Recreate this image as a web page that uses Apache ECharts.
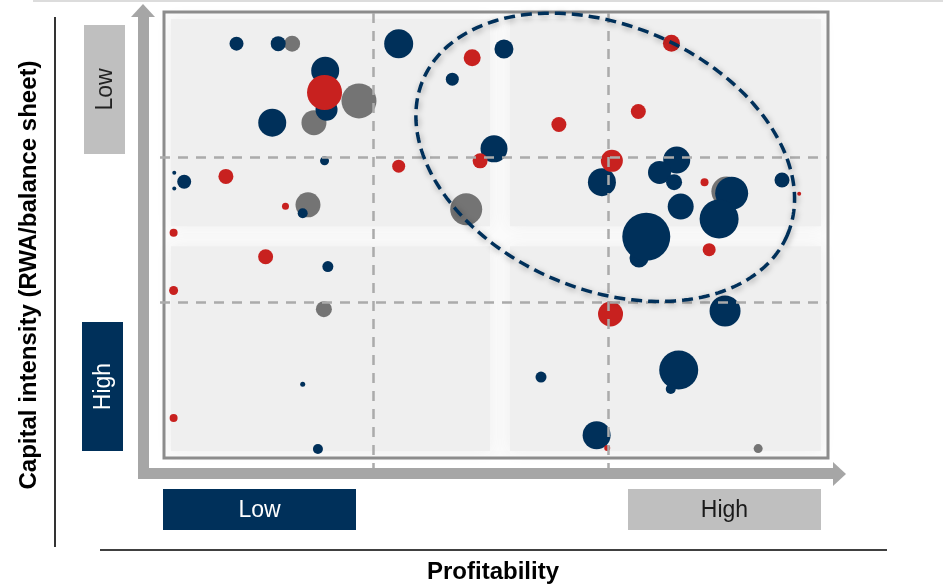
<!DOCTYPE html>
<html>
<head>
<meta charset="utf-8">
<script src="https://cdn.jsdelivr.net/npm/echarts@6/dist/echarts.min.js"></script>
<style>
  html, body { margin: 0; padding: 0; background: #ffffff; }
  #chart { width: 943px; height: 586px; }
</style>
</head>
<body>
<div id="chart"></div>
<script>
// Each bank: [profitability score 0-100, capital intensity score 0-100 (0 = low), bubble size]
const navyBanks = [
  [10.8, 6.9, 14], [17.1, 6.9, 15], [24.2, 13.0, 28], [24.4, 21.8, 22], [16.2, 24.7, 28],
  [35.3, 6.9, 29], [24.1, 33.3, 9], [1.4, 36.0, 4], [2.9, 38.0, 14], [1.4, 39.5, 4],
  [20.8, 45.1, 10], [24.6, 57.1, 11], [20.8, 83.6, 5], [23.1, 98.2, 10], [43.4, 14.9, 13],
  [51.2, 8.1, 19], [49.7, 30.6, 27], [66.0, 38.1, 28], [77.3, 33.1, 27], [74.7, 35.9, 23],
  [76.9, 38.1, 16], [85.6, 40.6, 33], [93.2, 37.6, 15], [77.9, 43.6, 26], [83.7, 46.4, 39],
  [71.6, 55.2, 19], [72.7, 50.4, 48], [84.6, 67.1, 31], [56.8, 82.0, 11], [77.6, 80.4, 39],
  [76.4, 84.7, 10], [65.2, 95.1, 28]
];
const redBanks = [
  [24.1, 17.9, 35], [35.3, 34.5, 13], [9.2, 36.8, 15], [18.2, 43.5, 7], [1.3, 49.5, 8],
  [15.2, 54.9, 15], [1.3, 62.5, 9], [1.3, 91.2, 8], [46.4, 10.1, 17], [76.5, 6.8, 17],
  [71.5, 22.2, 15], [59.5, 25.1, 15], [47.6, 33.3, 15], [67.5, 33.3, 22], [81.5, 38.1, 8],
  [95.8, 40.7, 4], [82.2, 53.3, 13], [67.3, 67.8, 25], [66.8, 98.0, 6]
];
const greyBanks = [
  [19.2, 6.9, 16], [29.3, 19.8, 35], [22.5, 24.7, 25], [21.6, 43.2, 25], [24.0, 66.7, 16],
  [45.5, 44.2, 32], [84.8, 40.2, 30], [89.6, 98.1, 9]
];

// Quadrant boundaries on both scales
const profitabilityCuts = [31.4, 66.9];
const intensityCuts = [32.4, 65.1];

// Axis wording
const xAxisTitle = 'Profitability';
const yAxisTitle = 'Capital intensity (RWA/balance sheet)';
const xLevels = ['Low', 'High'];
const yLevels = ['Low', 'High'];

// Centre of the highlighted cluster (profitability, capital intensity)
const clusterCentre = [66.5, 32.5];

// ---- layout and styling ----
const NAVY = '#00305a';
const RED = '#c8211f';
const GREY = '#747474';
const LIGHT_BOX = '#bfbfbf';
const ARROW = '#a6a6a6';
const FONT = '"Liberation Sans", Arial, sans-serif';
const GRID = { left: 165, top: 13, width: 662, height: 444 };
const PANEL_SPLIT = [50.6, 50.3];

const chart = echarts.init(document.getElementById('chart'), null, { renderer: 'canvas' });

function bubbles(name, data, color) {
  return {
    name: name,
    type: 'scatter',
    data: data,
    symbolSize: function (d) { return d[2]; },
    itemStyle: { color: color, opacity: 1 },
    emphasis: { disabled: true },
    silent: true,
    z: 2
  };
}

chart.setOption({
  animation: false,
  grid: { left: GRID.left, top: GRID.top, width: GRID.width, height: GRID.height, show: false },
  xAxis: { type: 'value', min: 0, max: 100, show: false },
  yAxis: { type: 'value', min: 0, max: 100, inverse: true, show: false },
  series: [
    bubbles('grey', greyBanks, GREY),
    bubbles('navy', navyBanks, NAVY),
    bubbles('red', redBanks, RED)
  ]
});

const toPx = function (p) { return chart.convertToPixel({ gridIndex: 0 }, p); };

const gx0 = GRID.left, gy0 = GRID.top;
const gx1 = GRID.left + GRID.width, gy1 = GRID.top + GRID.height;
const mid = toPx(PANEL_SPLIT);

const g = [];

// page furniture
g.push({ type: 'line', z: 1, shape: { x1: 33, y1: 1, x2: 943, y2: 1 }, style: { stroke: '#dcdcdc', lineWidth: 2 } });
g.push({ type: 'line', z: 1, shape: { x1: 55, y1: 17, x2: 55, y2: 547 }, style: { stroke: '#000', lineWidth: 1.6 } });
g.push({ type: 'line', z: 1, shape: { x1: 100, y1: 550, x2: 887, y2: 550 }, style: { stroke: '#000', lineWidth: 1.6 } });
g.push({
  type: 'text', z: 1, x: 29, y: 275, rotation: Math.PI / 2,
  style: { text: yAxisTitle, fill: '#000', font: 'bold 24px ' + FONT, align: 'center', verticalAlign: 'middle' }
});
g.push({
  type: 'text', z: 1, x: 493, y: 572,
  style: { text: xAxisTitle, fill: '#000', font: 'bold 24px ' + FONT, align: 'center', verticalAlign: 'middle' }
});

// axis arrows
g.push({ type: 'polygon', z: 1, shape: { points: [[138, 17], [149, 17], [149, 479], [138, 479]] }, style: { fill: ARROW } });
g.push({ type: 'polygon', z: 1, shape: { points: [[131, 17], [155, 17], [143, 4]] }, style: { fill: ARROW } });
g.push({ type: 'polygon', z: 1, shape: { points: [[138, 468], [833, 468], [833, 479], [138, 479]] }, style: { fill: ARROW } });
g.push({ type: 'polygon', z: 1, shape: { points: [[833, 462], [833, 486], [846, 474]] }, style: { fill: ARROW } });

// level boxes
function levelBox(x, y, w, h, fill, text, color, vertical) {
  g.push({ type: 'rect', z: 1, shape: { x: x, y: y, width: w, height: h }, style: { fill: fill } });
  g.push({
    type: 'text', z: 1, x: x + w / 2 + (vertical ? 1 : 0), y: y + h / 2 + (vertical ? 0 : 1),
    rotation: vertical ? Math.PI / 2 : 0,
    style: { text: text, fill: color, font: '23px ' + FONT, align: 'center', verticalAlign: 'middle' }
  });
}
levelBox(84, 25, 41, 129, LIGHT_BOX, yLevels[0], '#222', true);
levelBox(82, 322, 41, 129, NAVY, yLevels[1], '#fff', true);
levelBox(163, 489, 193, 41, NAVY, xLevels[0], '#fff', false);
levelBox(628, 489, 193, 41, LIGHT_BOX, xLevels[1], '#1a1a1a', false);

// plot background: four soft grey panels with a pale cross between them
g.push({ type: 'rect', z: 0, shape: { x: gx0, y: gy0, width: GRID.width, height: GRID.height }, style: { fill: '#fbfbfb' } });
const inset = 6, gap = 10;
const panels = [
  [gx0 + inset, gy0 + inset, mid[0] - gap, mid[1] - gap],
  [mid[0] + gap, gy0 + inset, gx1 - inset, mid[1] - gap],
  [gx0 + inset, mid[1] + gap, mid[0] - gap, gy1 - inset],
  [mid[0] + gap, mid[1] + gap, gx1 - inset, gy1 - inset]
];
panels.forEach(function (p) {
  g.push({
    type: 'rect', z: 0,
    shape: { x: p[0], y: p[1], width: p[2] - p[0], height: p[3] - p[1] },
    style: { fill: '#efefef', shadowBlur: 16, shadowColor: '#efefef' }
  });
});

// plot frame
g.push({
  type: 'rect', z: 10,
  shape: { x: gx0 - 1, y: gy0 - 1, width: GRID.width + 2, height: GRID.height + 2 },
  style: { fill: null, stroke: '#8c8c8c', lineWidth: 3 }
});

// quadrant dividers
profitabilityCuts.forEach(function (cut) {
  const x = Math.round(toPx([cut, 0])[0]) + 0.5;
  g.push({
    type: 'line', z: 11, shape: { x1: x, y1: gy0, x2: x, y2: 468 },
    style: { stroke: '#ababab', lineWidth: 2.5, lineDash: [10, 8] }
  });
});
intensityCuts.forEach(function (cut) {
  const y = Math.round(toPx([0, cut])[1]) + 0.5;
  g.push({
    type: 'line', z: 11, shape: { x1: 160, y1: y, x2: gx1, y2: y },
    style: { stroke: '#ababab', lineWidth: 2.5, lineDash: [10, 8] }
  });
});

// highlighted cluster outline
const c = toPx(clusterCentre);
const rx = 198, ry = 132, tilt = 23.1 * Math.PI / 180;
const pts = [];
for (let i = 0; i < 240; i++) {
  const t = i / 240 * Math.PI * 2;
  const ex = rx * Math.cos(t), ey = ry * Math.sin(t);
  pts.push([c[0] + ex * Math.cos(tilt) - ey * Math.sin(tilt), c[1] + ex * Math.sin(tilt) + ey * Math.cos(tilt)]);
}
g.push({
  type: 'polygon', z: 12, shape: { points: pts },
  style: {
    fill: null, stroke: NAVY, lineWidth: 3.5, lineDash: [11, 6],
    shadowBlur: 6, shadowColor: 'rgba(0,0,0,0.35)', shadowOffsetX: 1, shadowOffsetY: 2
  }
});

chart.setOption({ graphic: { elements: g } });
</script>
</body>
</html>
